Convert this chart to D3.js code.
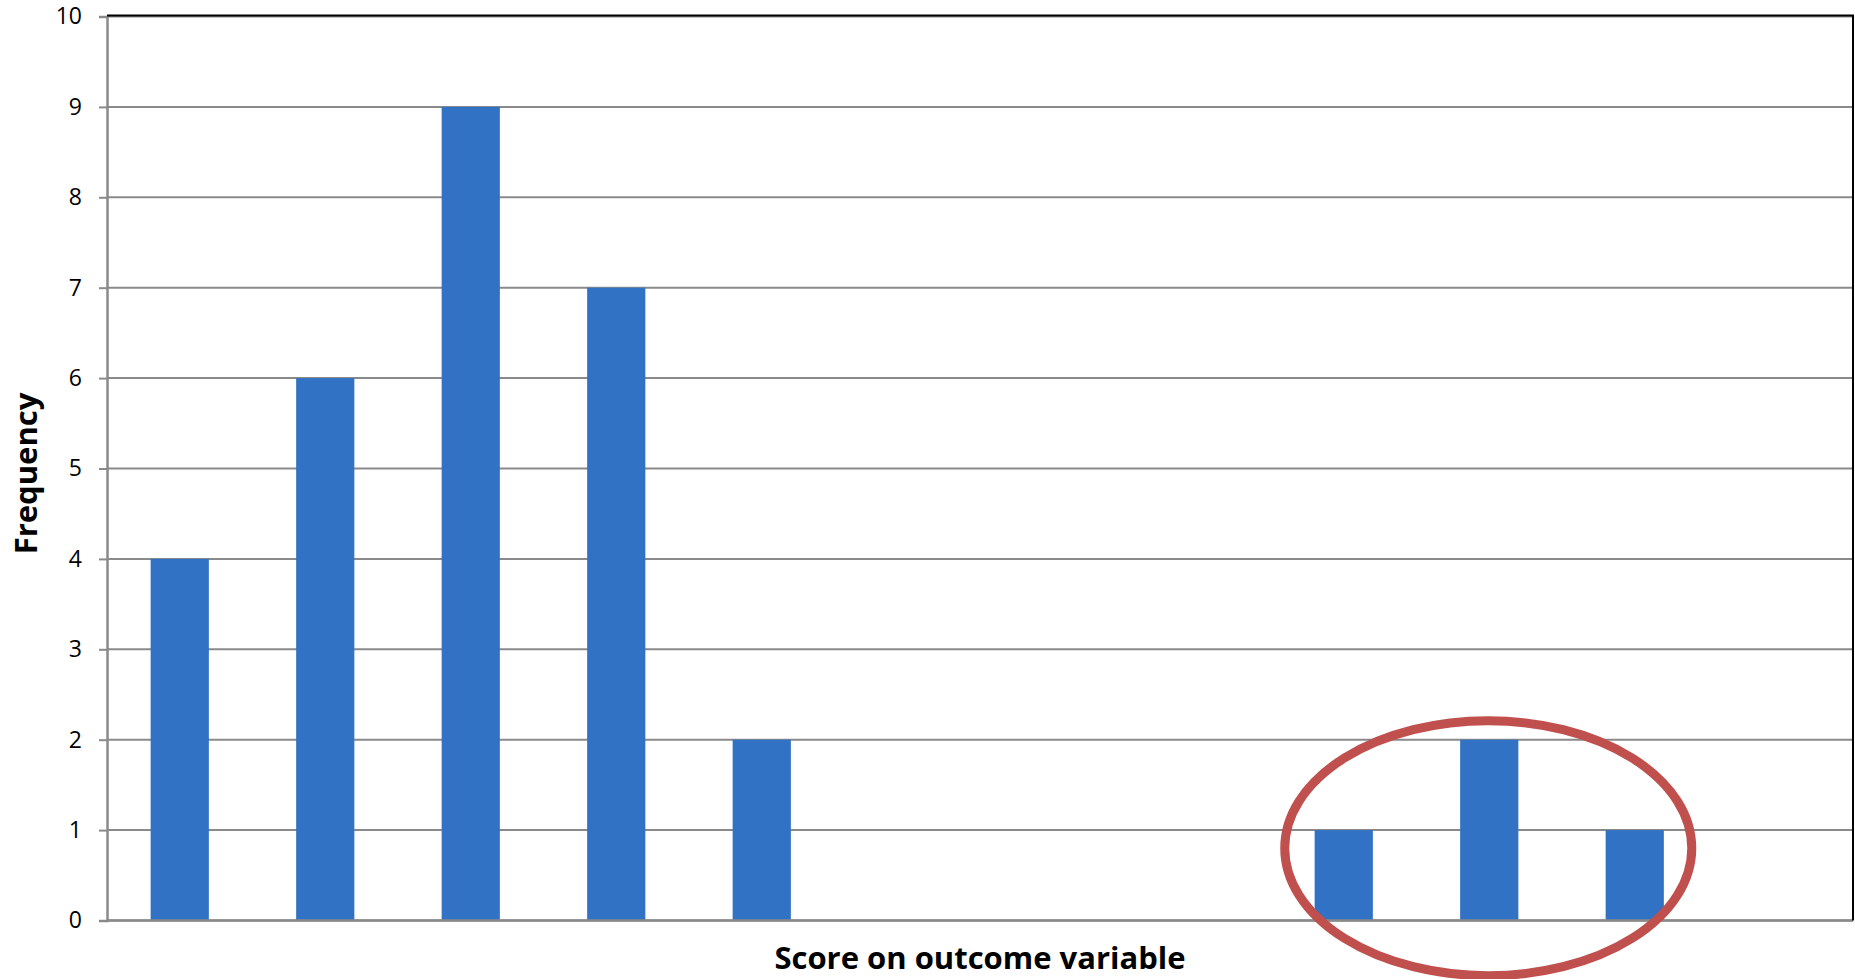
<!DOCTYPE html>
<html>
<head>
<meta charset="utf-8">
<script src="https://cdn.jsdelivr.net/npm/d3@7/dist/d3.min.js"></script>
<style>
  html, body { margin: 0; padding: 0; background: #ffffff; }
  svg { display: block; }
</style>
</head>
<body>
<script>
// Frequency of each score on the outcome variable (12 score bins)
const categories = ["1", "2", "3", "4", "5", "6", "7", "8", "9", "10", "11", "12"];
const frequencies = [4, 6, 9, 7, 2, 0, 0, 0, 1, 2, 1, 0];
const yTicks = [0, 1, 2, 3, 4, 5, 6, 7, 8, 9, 10];
// bins singled out by the outlier ring
const outlierBins = ["9", "10", "11"];

const W = 1855, H = 979;
const margin = { top: 16.5, right: 2, bottom: 58.5, left: 107 };
const innerW = W - margin.left - margin.right;
const innerH = H - margin.top - margin.bottom;

const svg = d3.select("body").append("svg")
  .attr("width", W).attr("height", H);

const g = svg.append("g")
  .attr("transform", `translate(${margin.left},${margin.top})`);

const x = d3.scaleBand().domain(categories).range([0, innerW]).paddingInner(0.6).paddingOuter(0.3);
const y = d3.scaleLinear().domain([0, 10]).range([innerH, 0]);

// horizontal gridlines
g.append("g").selectAll("line").data(yTicks).join("line")
  .attr("x1", 0).attr("x2", innerW)
  .attr("y1", d => y(d)).attr("y2", d => y(d))
  .attr("stroke", "#8a8a8a").attr("stroke-width", 2);

// bars
g.append("g").selectAll("rect").data(frequencies.map((v, i) => ({ c: categories[i], v })))
  .join("rect")
  .attr("x", d => x(d.c))
  .attr("y", d => y(d.v))
  .attr("width", x.bandwidth())
  .attr("height", d => y(0) - y(d.v))
  .attr("fill", "#3172c4");

// y axis with outward ticks
const yAxis = g.append("g")
  .call(d3.axisLeft(y).tickValues(yTicks).tickSize(8).tickPadding(17).tickFormat(d3.format("d")));
yAxis.select(".domain").attr("stroke", "#8a8a8a").attr("stroke-width", 2.5);
yAxis.selectAll(".tick line").attr("stroke", "#8a8a8a").attr("stroke-width", 2);
yAxis.selectAll(".tick text")
  .attr("fill", "#000")
  .style("font-family", "'Open Sans', sans-serif")
  .style("font-size", "23px");

// x axis baseline (no tick labels)
g.append("line")
  .attr("x1", 0).attr("x2", innerW)
  .attr("y1", y(0)).attr("y2", y(0))
  .attr("stroke", "#8a8a8a").attr("stroke-width", 2.5);

// plot area frame: top and right edges
g.append("line")
  .attr("x1", 0).attr("x2", innerW + 1)
  .attr("y1", -1).attr("y2", -1)
  .attr("stroke", "#000").attr("stroke-width", 2);
g.append("line")
  .attr("x1", innerW).attr("x2", innerW)
  .attr("y1", -1).attr("y2", innerH)
  .attr("stroke", "#000").attr("stroke-width", 2);

// ring around the outlying bins
const cx0 = x(outlierBins[0]) + x.bandwidth() / 2;
const cx1 = x(outlierBins[outlierBins.length - 1]) + x.bandwidth() / 2;
const ringPad = 58;
g.append("ellipse")
  .attr("cx", (cx0 + cx1) / 2 - 1)
  .attr("cy", y(0.8))
  .attr("rx", (cx1 - cx0) / 2 + ringPad)
  .attr("ry", y(0) - y(1.41))
  .attr("fill", "none")
  .attr("stroke", "#c0504d")
  .attr("stroke-width", 9);

// axis titles
svg.append("text")
  .attr("transform", `translate(37,${margin.top + innerH / 2 + 5}) rotate(-90)`)
  .attr("text-anchor", "middle")
  .style("font-family", "'Open Sans', sans-serif")
  .style("font-weight", 700)
  .style("font-size", "31px")
  .attr("fill", "#000")
  .text("Frequency");

svg.append("text")
  .attr("x", 980).attr("y", 969)
  .attr("text-anchor", "middle")
  .style("font-family", "'Open Sans', sans-serif")
  .style("font-weight", 700)
  .style("font-size", "31px")
  .attr("fill", "#000")
  .text("Score on outcome variable");
</script>
</body>
</html>
